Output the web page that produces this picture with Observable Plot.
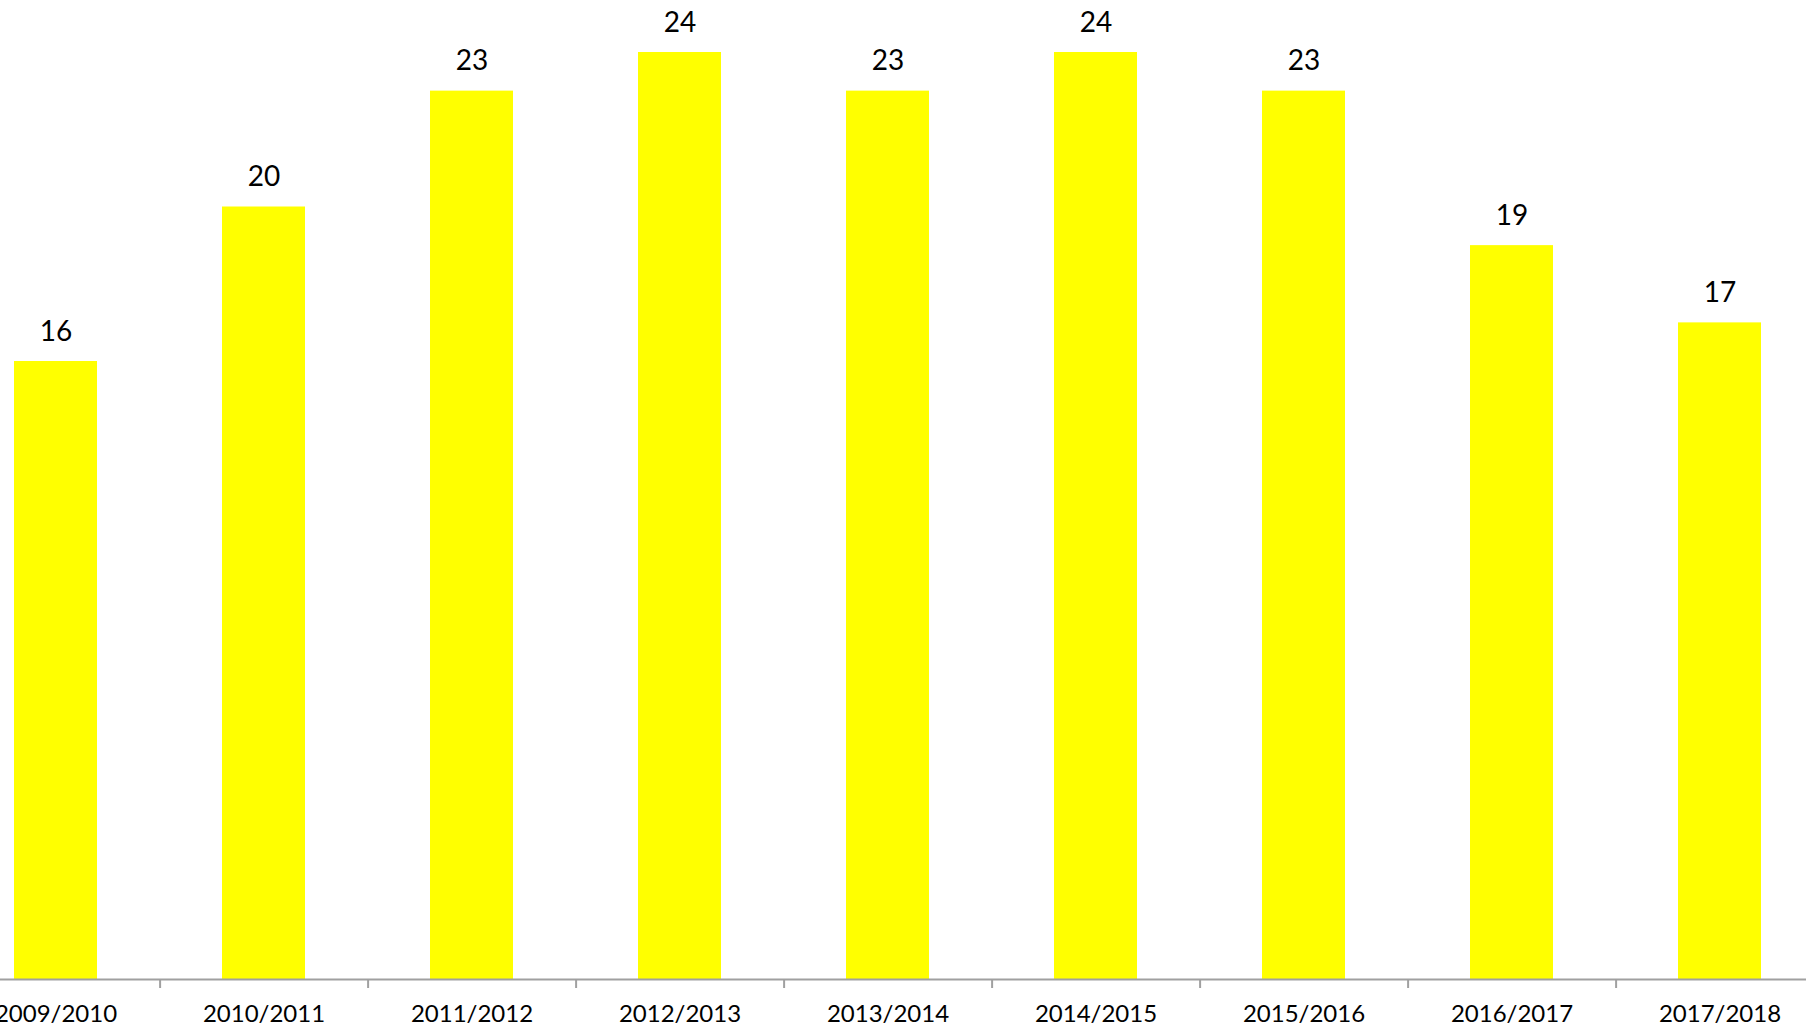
<!DOCTYPE html>
<html>
<head>
<meta charset="utf-8">
<script src="https://cdn.jsdelivr.net/npm/d3@7"></script>
<script src="https://cdn.jsdelivr.net/npm/@observablehq/plot@0.6"></script>
<style>
  html, body { margin: 0; padding: 0; background: #ffffff; overflow: hidden; }
  #chart svg { display: block; overflow: visible; }
</style>
</head>
<body>
<div id="chart"></div>
<script>
const seasons = ["2009/2010", "2010/2011", "2011/2012", "2012/2013", "2013/2014", "2014/2015", "2015/2016", "2016/2017", "2017/2018"];
const counts = [16, 20, 23, 24, 23, 24, 23, 19, 17];

const data = seasons.map((s, i) => ({season: s, value: counts[i]}));

const W = 1806, H = 1028;
const xRange = [-49, 1825];
const step = (xRange[1] - xRange[0]) / seasons.length;

const chart = Plot.plot({
  width: W,
  height: H,
  marginLeft: 0,
  marginRight: 0,
  marginTop: 0,
  marginBottom: 49,
  style: {fontFamily: "Lato, 'Open Sans', sans-serif", background: "#ffffff", color: "#000000"},
  x: {domain: seasons, range: xRange, paddingInner: 0.6, paddingOuter: 0.3, align: 0.5, label: null},
  y: {domain: [0, 24], range: [979, 52], axis: null},
  marks: [
    Plot.barY(data, {x: "season", y: "value", fill: "#ffff00"}),
    Plot.ruleY([0], {stroke: "#a0a0a0", strokeWidth: 2}),
    Plot.axisX({tickSize: 9, text: null, dx: step / 2, stroke: "#a0a0a0", strokeWidth: 2, strokeOpacity: 1}),
    Plot.axisX({tickSize: 0, tickPadding: 25, fontSize: 24, fill: "#000000", label: null}),
    Plot.text(data, {x: "season", y: "value", text: d => String(d.value), lineAnchor: "bottom", dy: -21, fontSize: 28, fill: "#000000"})
  ]
});
document.getElementById("chart").appendChild(chart);
</script>
</body>
</html>
